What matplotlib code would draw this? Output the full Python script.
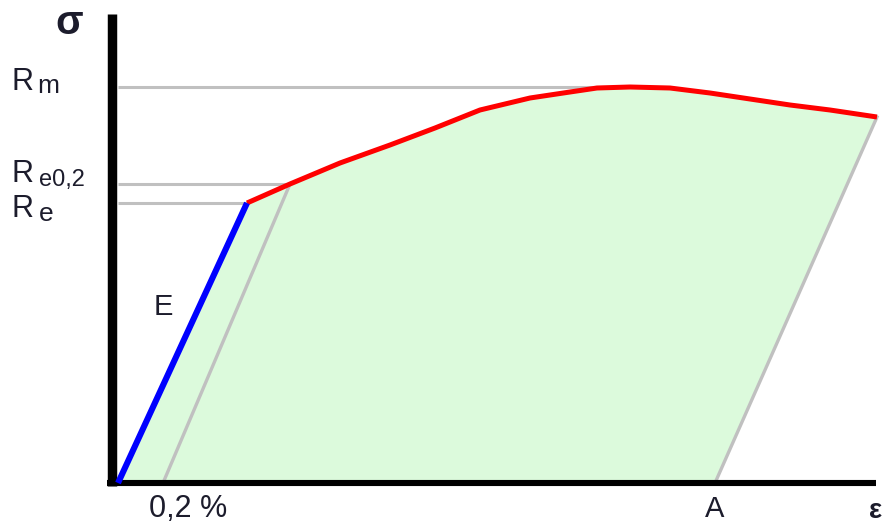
import matplotlib
matplotlib.use("Agg")
import matplotlib.pyplot as plt
import numpy as np

# ---- data (chart units: strain-like x, stress-like y, origin at axes corner) ----
elastic_x = [0, 129]
elastic_y = [0, 280]

plastic_x = [129, 172, 222, 272, 317, 362, 412, 452, 479, 512, 552, 592, 632, 672, 712, 759]
plastic_y = [280, 299, 320, 338, 355, 373, 385, 391, 395, 396, 395, 390, 384, 378, 373, 366]

offset02_x = [45, 172]      # 0.2 % offset line
offset02_y = [0, 299]
unload_x = [597, 759]       # unloading line to A
unload_y = [0, 366]

levels = {"Rm": 396, "Re02": 299, "Re": 280}
level_ends = {"Rm": 512, "Re02": 172, "Re": 129}

TEXT = "#1c1c2c"
FONT = "Liberation Sans"

fig = plt.figure(figsize=(8.91, 5.24), dpi=100)
ax = fig.add_axes([0, 0, 1, 1])
ax.set_xlim(-118, 773)
ax.set_ylim(-41, 483)
ax.axis("off")

# green area
fx = elastic_x + plastic_x[1:] + [unload_x[0]]
fy = elastic_y + plastic_y[1:] + [unload_y[0]]
ax.fill(fx, fy, color="#dcfadc", lw=0, zorder=1)

# gray guide lines
g = "#c0c0c0"
for k in levels:
    ax.plot([0, level_ends[k]], [levels[k], levels[k]], color=g, lw=2.2, zorder=2,
            solid_capstyle="butt")
ax.plot(offset02_x, offset02_y, color=g, lw=2.4, zorder=2)
ax.plot(unload_x, unload_y, color=g, lw=2.4, zorder=2)

# axes
ax.plot([-6, -6], [-3, 469], color="black", lw=6.8, solid_capstyle="butt", zorder=3)
ax.plot([-11, 758], [0, 0], color="black", lw=4.4, solid_capstyle="butt", zorder=3)

# curve
ax.plot(plastic_x, plastic_y, color="#ff0000", lw=3.6, zorder=4,
        solid_capstyle="butt", solid_joinstyle="round")
ax.plot(elastic_x, elastic_y, color="#0000ff", lw=4.4, zorder=5, solid_capstyle="butt")

def px(xp, yp):
    return xp - 118, 483 - yp

def t(xp, yp, s, size, **kw):
    x, y = px(xp, yp)
    ax.text(x, y, s, fontsize=size, color=TEXT, family=FONT, zorder=6, **kw)

# labels
t(69, 34, "σ", 29, ha="center", va="baseline", fontweight="bold")
t(11, 90, "R", 22, ha="left", va="baseline")
t(37, 93, "m", 19, ha="left", va="baseline")
t(11, 182, "R", 22, ha="left", va="baseline")
t(39, 186, "e0,2", 17, ha="left", va="baseline")
t(11, 217, "R", 22, ha="left", va="baseline")
t(39, 221, "e", 19, ha="left", va="baseline")
t(163, 315, "E", 21, ha="center", va="baseline")
t(188, 517, "0,2 %", 22, ha="center", va="baseline")
t(715, 517, "A", 21, ha="center", va="baseline")
t(876, 518, "ε", 20, ha="center", va="baseline", fontweight="bold")

fig.savefig("out.png", dpi=100)
